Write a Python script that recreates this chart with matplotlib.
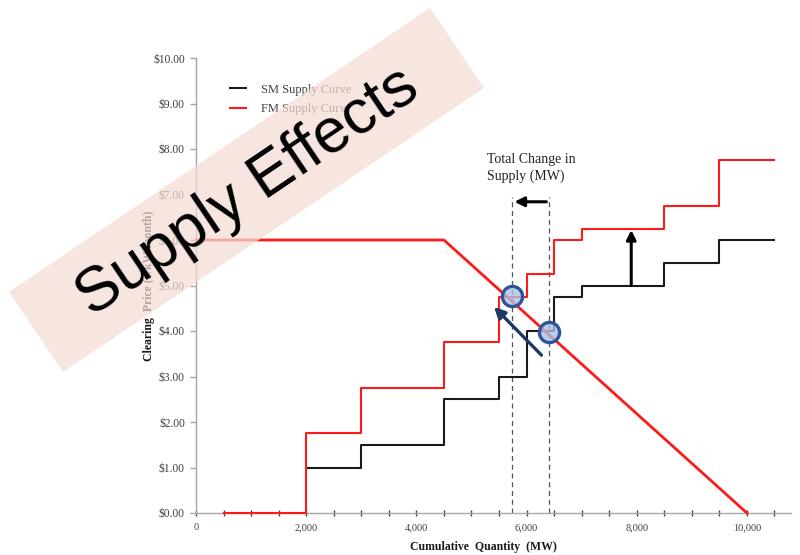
import matplotlib
matplotlib.use("Agg")
import matplotlib.pyplot as plt
from matplotlib.patches import Polygon

# ---- data -------------------------------------------------------------
# SM supply curve: step start quantities (MW) and prices ($/kW-month)
sm_q = [2000, 3000, 4500, 5500, 6000, 6500, 7000, 8500, 9500, 10500]
sm_p = [1.00, 1.50, 2.50, 3.00, 4.00, 4.75, 5.00, 5.50, 6.00, 6.00]

# FM supply curve
fm_q = [500, 2000, 3000, 4500, 5500, 6000, 6500, 7000, 8500, 9500, 10500]
fm_p = [0.00, 1.75, 2.75, 3.75, 4.75, 5.25, 6.00, 6.25, 6.75, 7.75, 7.75]

# demand curve vertices
dem_q = [0, 4500, 10000]
dem_p = [6.00, 6.00, 0.00]

# market clearing points (FM, SM)
clear_q = [5730, 6410]
clear_p = [4.77, 3.98]

# annotation values
shift_arrow_q = [6270, 5410]     # tail, tip of the blue arrow
shift_arrow_p = [3.47, 4.53]
change_arrow_q = [6360, 5780]    # total change arrow
change_arrow_p = 6.84
up_arrow_q = 7900
up_arrow_p = [5.00, 6.22]
dash_top = 6.95

x_ticks = [0, 2000, 4000, 6000, 8000, 10000]
x_tick_labels = ["0", "2,000", "4,000", "6,000", "8,000", "10,000"]
y_ticks = list(range(0, 11))
y_tick_labels = [f"${v:.2f}" for v in y_ticks]

# ---- figure ------------------------------------------------------------
W, H = 800, 555
fig = plt.figure(figsize=(W / 100, H / 100), dpi=100)
serif = "Liberation Serif"

ax = fig.add_axes([196 / W, (H - 513) / H, (791 - 196) / W, (513 - 58) / H])
ax.set_xlim(0, 10800)
ax.set_ylim(0, 10)

for s in ("top", "right"):
    ax.spines[s].set_visible(False)
for s in ("left", "bottom"):
    ax.spines[s].set_color("#a6a6a6")
    ax.spines[s].set_linewidth(1.0)

ax.set_xticks(x_ticks)
ax.set_xticklabels(x_tick_labels, fontfamily=serif, fontsize=7.5, color="#404040")
ax.set_xticks(range(0, 10501, 500), minor=True)
ax.tick_params(axis="x", which="both", direction="inout", length=5,
               width=1.0, color="#404040", pad=5)
ax.set_yticks(y_ticks)
ax.set_yticklabels(y_tick_labels, fontfamily=serif, fontsize=8.3, color="#404040")
ax.tick_params(axis="y", direction="out", length=4, width=1.0,
               color="#a6a6a6", pad=4)

# step curves
ax.step(sm_q, sm_p, where="post", color="#1a1a1a", lw=1.5, zorder=3,
        label="SM Supply Curve", clip_on=False)
ax.step(fm_q, fm_p, where="post", color="#ff1a1a", lw=1.5, zorder=3,
        label="FM Supply Curve", clip_on=False)
# demand
ax.plot(dem_q, dem_p, color="#ff1a1a", lw=2.0, zorder=3, clip_on=False)

# dashed guide lines at the clearing quantities
for q in clear_q:
    ax.plot([q, q], [0, dash_top], ls=(0, (4, 3)), color="#555555", lw=0.9, zorder=2)

# clearing-point markers
ax.plot(clear_q, clear_p, ls="none", marker="o", ms=14.5,
        mfc=(0.68, 0.76, 0.89, 0.8), mec="#2f5597", mew=2.4, zorder=5)

# arrows
ax.annotate("", xy=(shift_arrow_q[1], shift_arrow_p[1]),
            xytext=(shift_arrow_q[0], shift_arrow_p[0]),
            arrowprops=dict(arrowstyle="-|>", color="#1f3864", lw=2.4,
                            mutation_scale=16, shrinkA=0, shrinkB=0), zorder=6)
ax.annotate("", xy=(change_arrow_q[1], change_arrow_p),
            xytext=(change_arrow_q[0], change_arrow_p),
            arrowprops=dict(arrowstyle="-|>", color="black", lw=2.2,
                            mutation_scale=14, shrinkA=0, shrinkB=0), zorder=6)
ax.annotate("", xy=(up_arrow_q, up_arrow_p[1]),
            xytext=(up_arrow_q, up_arrow_p[0]),
            arrowprops=dict(arrowstyle="-|>", color="black", lw=2.2,
                            mutation_scale=14, shrinkA=0, shrinkB=0), zorder=6)

ax.text(5280, 7.58, "Total Change in\nSupply (MW)", fontfamily=serif,
        fontsize=10, color="#222222", ha="left", va="center", linespacing=1.35)

# legend
leg = ax.legend(loc="upper left", bbox_to_anchor=(0.038, 0.968), frameon=False,
                prop={"family": serif, "size": 9}, handlelength=1.3,
                handletextpad=1.2, labelspacing=0.6)
for t in leg.get_texts():
    t.set_color("#404040")

# axis titles
ax.set_xlabel("Cumulative  Quantity  (MW)", fontfamily=serif, fontsize=8.5,
              fontweight="bold", color="#1a1a1a")
ax.xaxis.set_label_coords((483 - 196) / 595, -(541 - 513) / 455)
ax.set_ylabel("Clearing  Price ($/kW-month)", fontfamily=serif, fontsize=8.5,
              fontweight="bold", color="#1a1a1a")
ax.yaxis.set_label_coords((155 - 196) / 595, 0.5)

# title banner
def fxy(px, py):
    return (px / W, 1 - py / H)

corners = [fxy(9, 292), fxy(430, 8), fxy(484, 88), fxy(63, 372)]
banner = Polygon(corners, closed=True, transform=fig.transFigure,
                 facecolor="#f4ddd3", edgecolor="none", alpha=0.72, zorder=10)
fig.add_artist(banner)
cx, cy = fxy(248, 192)
fig.text(cx, cy, "Supply Effects", fontfamily="Liberation Sans", fontsize=45,
         color="black", rotation=34, rotation_mode="anchor",
         ha="center", va="center", zorder=11)

fig.savefig("out.png", dpi=100)
